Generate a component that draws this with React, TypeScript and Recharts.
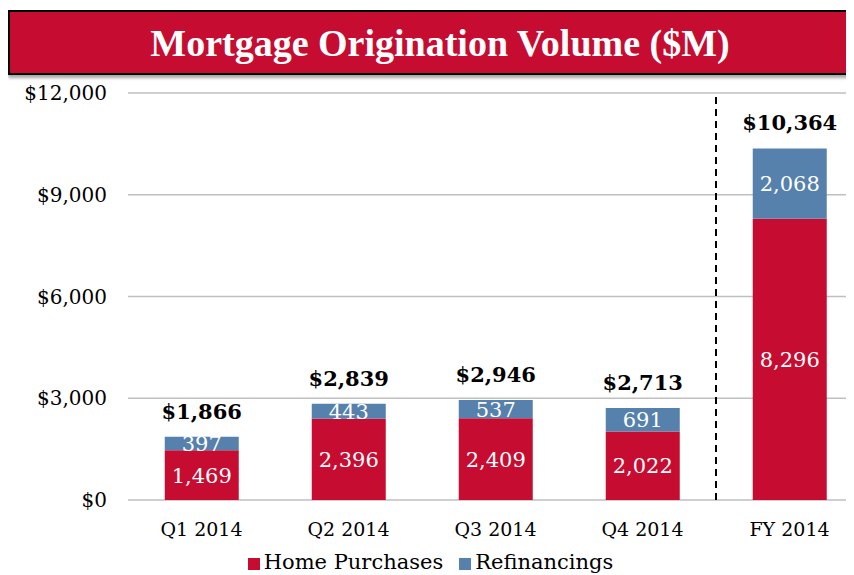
import React from "react";
import {
  BarChart, Bar, XAxis, YAxis, CartesianGrid, Legend, LabelList, ReferenceLine,
} from "recharts";

// values ($M)
const categories = ["Q1 2014", "Q2 2014", "Q3 2014", "Q4 2014", "FY 2014"];
const homePurchases = [1469, 2396, 2409, 2022, 8296];
const refinancings = [397, 443, 537, 691, 2068];
const totals = [1866, 2839, 2946, 2713, 10364];
const yTicks = [0, 3000, 6000, 9000, 12000];

const RED = "#C60C30";
const BLUE = "#5581AC";
const SERIF = "'DejaVu Serif', Georgia, serif";

const data = categories.map((name, i) => ({
  name,
  home: homePurchases[i],
  refi: refinancings[i],
  total: totals[i],
}));

const fmt = (v: number) => v.toLocaleString("en-US");

export default function App() {
  return (
    <div style={{ position: "relative", width: 846, height: 567, overflow: "hidden" }}>
      <div
        style={{
          position: "absolute", top: 2, left: 0, width: 880, height: 61,
          background: RED, border: "2px solid #000",
          boxShadow: "0 3px 3px rgba(0,0,0,0.35)",
          display: "flex", alignItems: "center",
        }}
      >
        <div
          style={{
            width: 860, textAlign: "center", color: "#fff",
            fontFamily: "'Liberation Serif', serif", fontWeight: 700, fontSize: 38,
          }}
        >
          Mortgage Origination Volume ($M)
        </div>
      </div>
      <div style={{ position: "absolute", top: 0, left: 0 }}>
        <BarChart
          width={860}
          height={566}
          data={data}
          margin={{ top: 85, right: 5, left: 0, bottom: 0 }}
          barCategoryGap="25%"
        >
          <CartesianGrid vertical={false} stroke="#BFBFBF" strokeWidth={1.5} />
          <XAxis
            dataKey="name"
            axisLine={false}
            tickLine={false}
            tickMargin={17}
            height={50}
            tick={{ fontFamily: SERIF, fontSize: 19, fill: "#000" }}
          />
          <YAxis
            domain={[0, 12000]}
            ticks={yTicks}
            width={120}
            axisLine={false}
            tickLine={false}
            tickMargin={15}
            tickFormatter={(v) => "$" + fmt(v)}
            tick={{ fontFamily: SERIF, fontSize: 20, fill: "#000" }}
          />
          <ReferenceLine
            x="FY 2014" position="start" stroke="#000" strokeWidth={2} strokeDasharray="7 5"
          />
          <Legend
            verticalAlign="bottom"
            iconType="square"
            iconSize={12}
            wrapperStyle={{ fontFamily: SERIF, fontSize: 21 }}
            formatter={(v, _e, i) => (
              <span style={{ color: "#000", marginRight: i === 0 ? 6 : 0 }}>{v}</span>
            )}
          />
          <Bar dataKey="home" name="Home Purchases" stackId="a" fill={RED} isAnimationActive={false}>
            <LabelList
              dataKey="home" position="center" formatter={(v: number) => fmt(v)}
              fill="#fff" fontFamily={SERIF} fontSize={21}
            />
          </Bar>
          <Bar dataKey="refi" name="Refinancings" stackId="a" fill={BLUE} isAnimationActive={false}>
            <LabelList
              dataKey="refi" position="center" formatter={(v: number) => fmt(v)}
              fill="#fff" fontFamily={SERIF} fontSize={21}
            />
            <LabelList
              dataKey="total" position="top" offset={18} formatter={(v: number) => "$" + fmt(v)}
              fill="#000" fontFamily={SERIF} fontSize={21} fontWeight={700}
            />
          </Bar>
        </BarChart>
      </div>
    </div>
  );
}
